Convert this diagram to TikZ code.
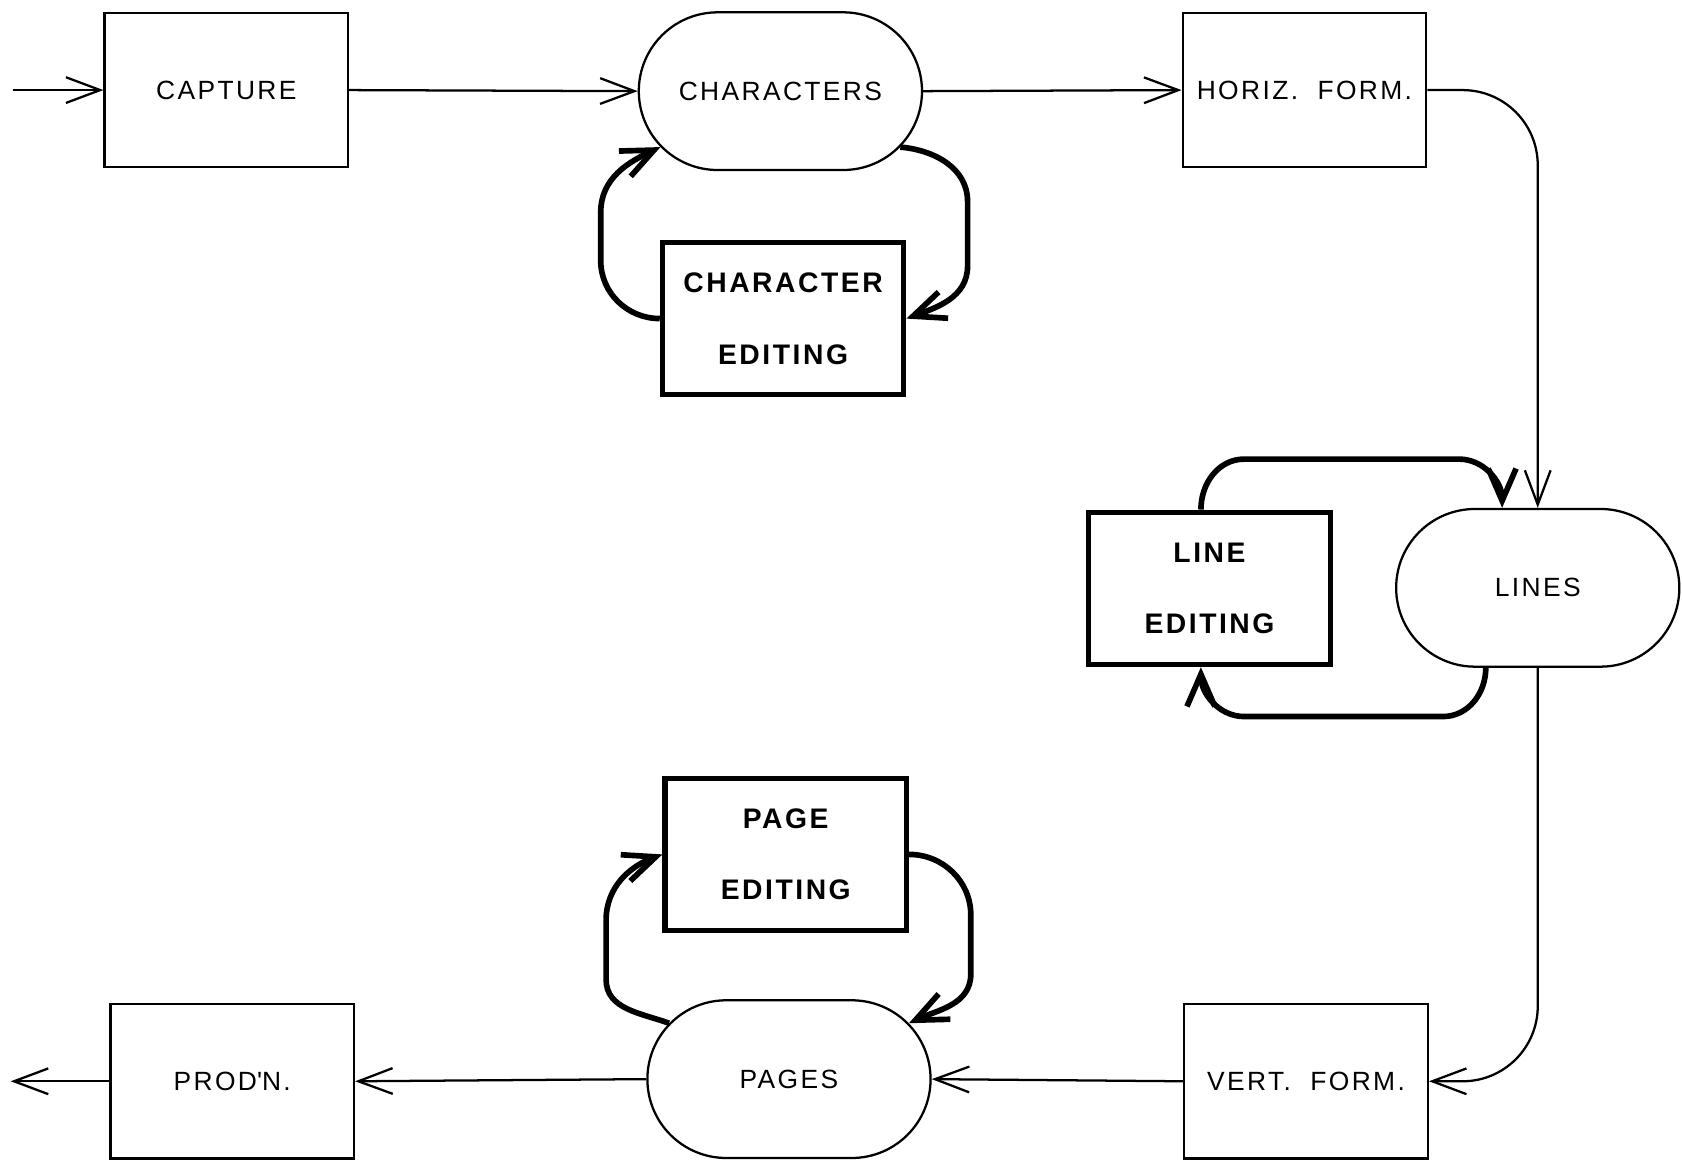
\documentclass[tikz,border=0pt]{standalone}
\usepackage{fontspec}
\setmainfont{Liberation Sans}[LetterSpace=9]
\usepackage{tikz}
\usetikzlibrary{positioning, shapes.misc, arrows.meta}
\tikzset{myBox/.style={draw, line width=0.6pt, minimum width=2.27cm, minimum height=1.44cm, inner sep=0pt, font=\fontsize{7}{8}\selectfont}}
\tikzset{myStadium/.style={myBox, rounded rectangle, minimum width=2.64cm, minimum height=1.47cm}}
\tikzset{myEditBox/.style={myBox, line width=1.4pt, minimum width=2.25cm, minimum height=1.42cm, align=center, font=\bfseries\fontsize{7.5}{19}\selectfont}}
\tikzset{myFlow/.style={line width=0.6pt, -{Straight Barb[length=3.2mm,width=2.4mm]}}}
\tikzset{myLoop/.style={line width=1.5pt, -{Straight Barb[length=3mm,width=2.6mm]}}}

\begin{document}
\begin{tikzpicture}
	\useasboundingbox (0,0) rectangle (15.68,10.83);
	% top row
	\coordinate (in) at (0.12,9.99);
	\node[myBox] (capture) at (2.11,9.99) {CAPTURE};
	\node[myStadium] (chars) at (7.275,9.98) {CHARACTERS};
	\node[myBox] (horiz) at (12.16,9.99) {HORIZ.\ \ FORM.};
	\node[myEditBox] (chedit) at (7.30,7.86) {CHARACTER\\EDITING};
	% right side
	\node[myStadium] (lines) at (14.335,5.35) {LINES};
	\node[myEditBox] (ledit) at (11.275,5.345) {LINE\\EDITING};
	% bottom row
	\node[myEditBox] (pedit) at (7.325,2.865) {PAGE\\EDITING};
	\node[myBox] (vert) at (12.175,0.75) {VERT.\ \ FORM.};
	\node[myStadium] (pages) at (7.355,0.77) {PAGES};
	\node[myBox] (prodn) at (2.165,0.75) {PROD\textquotesingle N.};
	\coordinate (out) at (0.10,0.75);

	\draw[myFlow] (in) -- (capture.west);
	\draw[myFlow] (capture.east) -- (chars.west);
	\draw[myFlow] (chars.east) -- (horiz.west);
	\draw[myFlow, rounded corners=0.7cm] (horiz.east) -| (lines.north);
	\draw[myFlow, rounded corners=0.7cm] (lines.south) |- (vert.east);
	\draw[myFlow] (vert.west) -- (pages.east);
	\draw[myFlow] (pages.west) -- (prodn.east);
	\draw[myFlow] (prodn.west) -- (out);

	% editing loops
	\draw[myLoop] (chedit.west) to[out=180,in=-90] (5.60,8.40) -- (5.60,8.85) to[out=90,in=205] (chars.205);
	\draw[myLoop] (chars.335) to[out=-5,in=90] (9.02,8.95) -- (9.02,8.35) to[out=-90,in=20] (chedit.east);
	\draw[myLoop] ([xshift=-0.08cm]ledit.north) to[out=90,in=180] (11.60,6.55) -- (13.60,6.55) to[out=0,in=90] (lines.114);
	\draw[myLoop] (lines.237) to[out=-90,in=0] (13.45,4.15) -- (11.60,4.15) to[out=180,in=-90] ([xshift=-0.08cm]ledit.south);
	\draw[myLoop] (pages.155) to[out=160,in=-90] (5.65,1.70) -- (5.65,2.25) to[out=90,in=200] (pedit.west);
	\draw[myLoop] (pedit.east) to[out=0,in=90] (9.05,2.30) -- (9.05,1.75) to[out=-90,in=25] (pages.25);
\end{tikzpicture}
\end{document}
